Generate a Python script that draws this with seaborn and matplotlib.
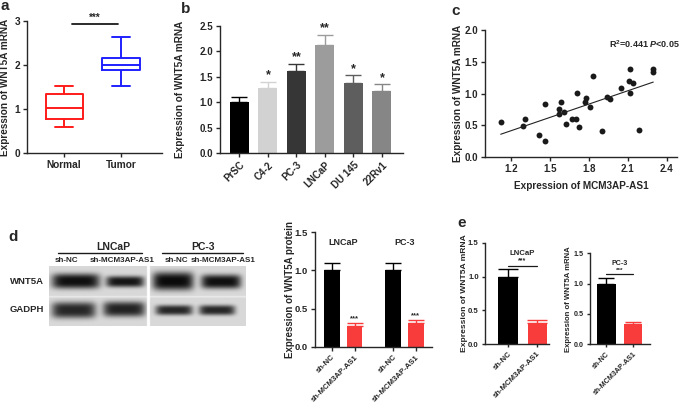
import numpy as np
import pandas as pd
import seaborn as sns
import matplotlib
matplotlib.use("Agg")
from matplotlib import pyplot as plt
from matplotlib.lines import Line2D

# panel a: five-number summaries (min, q1, median, q3, max)
a_groups = ["Normal", "Tumor"]
a_normal = [0.58, 0.78, 1.03, 1.35, 1.53]
a_tumor = [1.52, 1.89, 2.01, 2.17, 2.64]

# panel b
b_cells = ["PrSC", "C4-2", "PC-3", "LNCaP", "DU 145", "22Rv1"]
b_mean = [1.00, 1.27, 1.61, 2.12, 1.38, 1.23]
b_sem = [0.10, 0.13, 0.14, 0.20, 0.15, 0.12]
b_stars = ["", "*", "**", "**", "*", "*"]
b_colors = ["#000000", "#d2d2d2", "#363636", "#9c9c9c", "#5e5e5e", "#868686"]

# panel c
c_x = [1.121, 1.307, 1.290, 1.414, 1.463, 1.463, 1.583, 1.573, 1.611, 1.573,
       1.708, 1.626, 1.669, 1.698, 1.721, 1.782, 1.774, 1.807, 1.830, 1.902,
       1.940, 1.966, 2.050, 2.111, 2.144, 2.119, 2.119, 2.188, 2.293, 2.297]
c_y = [0.551, 0.594, 0.483, 0.346, 0.247, 0.839, 0.866, 0.761, 0.713, 0.672,
       1.013, 0.520, 0.598, 0.598, 0.468, 0.934, 0.861, 0.783, 1.280, 0.409,
       0.950, 0.909, 1.082, 1.197, 1.170, 1.386, 1.003, 0.425, 1.386, 1.334]

# panel d
d_lines = ["LNCaP", "PC-3"]
d_groups = ["sh-NC", "sh-MCM3AP-AS1"]
d_mean = [1.00, 0.275, 1.00, 0.31]
d_sem = [0.10, 0.04, 0.10, 0.04]
# western blot bands: lane centre, row centre, width, height, darkness
blot_bands = [
    (26.8, 15, 48, 15, 0.93), (76, 15.5, 38, 11, 0.9), (124, 15, 41, 18, 0.95), (172, 15.5, 40, 14, 0.93),
    (24.7, 44, 44, 16, 0.82), (75, 43, 42, 15, 0.84), (125, 44, 37, 10, 0.82), (168, 44, 36, 10, 0.82),
]

# panel e
e_lncap_mean = [1.00, 0.32]
e_lncap_sem = [0.11, 0.04]
e_pc3_mean = [0.99, 0.33]
e_pc3_sem = [0.11, 0.03]

BLACK, RED = "#000000", "#f83c3c"

sns.set_theme(style="ticks")
plt.rcParams["font.family"] = ["Liberation Sans", "DejaVu Sans"]
plt.rcParams["font.weight"] = "bold"
plt.rcParams["axes.labelweight"] = "bold"
plt.rcParams["axes.linewidth"] = 1.0
plt.rcParams["xtick.major.width"] = 1.0
plt.rcParams["ytick.major.width"] = 1.0
plt.rcParams["xtick.major.size"] = 3
plt.rcParams["ytick.major.size"] = 3
plt.rcParams["xtick.major.pad"] = 2
plt.rcParams["ytick.major.pad"] = 2
plt.rcParams["mathtext.fontset"] = "custom"
plt.rcParams["mathtext.rm"] = "Liberation Sans:bold"
plt.rcParams["mathtext.it"] = "Liberation Sans:italic:bold"
plt.rcParams["mathtext.bf"] = "Liberation Sans:bold"

W, H = 685, 405
fig = plt.figure(figsize=(W / 100, H / 100), dpi=100)


def px_axes(left, top, right, bottom):
    return fig.add_axes([left / W, 1 - bottom / H, (right - left) / W, (bottom - top) / H])


def ftext(x, y, s, **kw):
    fig.text(x / W, 1 - y / H, s, **kw)


def fline(x0, x1, y, lw=1.0):
    fig.add_artist(Line2D([x0 / W, x1 / W], [1 - y / H, 1 - y / H], color="k", lw=lw,
                          transform=fig.transFigure))


def ylabel_at(ax, text, right_px, left, right, size):
    ax.set_ylabel(text, fontsize=size)
    ax.yaxis.set_label_coords((right_px - left) / (right - left), 0.5)


def up_errorbars(ax, means, sems, colors, capsize, lw=1.0):
    bars = sorted(ax.patches, key=lambda p: p.get_x())
    centers = [p.get_x() + p.get_width() / 2 for p in bars]
    for x, m, s, col in zip(centers, means, sems, colors):
        ax.errorbar([x], [m], yerr=[[0], [s]], fmt="none", ecolor=col, elinewidth=lw,
                    capsize=capsize, capthick=lw)
    return centers


# ---------------- a
ax = px_axes(27, 21, 162, 153)
a_df = pd.DataFrame({"group": np.repeat(a_groups, 5), "value": a_normal + a_tumor})
sns.boxplot(data=a_df, x="group", y="value", hue="group", palette={"Normal": "#ff1a1a", "Tumor": "#2020ff"},
            fill=False, whis=(0, 100), width=0.65, linewidth=1.4, saturation=1, legend=False, ax=ax)
ax.set_xlim(-0.65, 1.72)
ax.set_ylim(0, 3)
ax.set_yticks([0, 1, 2, 3])
ax.set_xlabel("")
ax.tick_params(labelsize=7.3)
ylabel_at(ax, "Expression of WNT5A mRNA", 10, 27, 162, 7.2)
ax.plot([0.135, 0.95], [2.93, 2.93], color="k", lw=1.3)
ax.text(0.54, 2.95, "***", ha="center", va="bottom", fontsize=7)
sns.despine(ax=ax)

# ---------------- b
ax = px_axes(220, 26, 403, 153)
b_df = pd.DataFrame({"cell": b_cells, "value": b_mean})
sns.barplot(data=b_df, x="cell", y="value", hue="cell", palette=b_colors, width=0.67, saturation=1,
            errorbar=None, legend=False, linewidth=0, ax=ax)
centers = up_errorbars(ax, b_mean, b_sem, b_colors, capsize=6)
for x, m, s, st in zip(centers, b_mean, b_sem, b_stars):
    ax.text(x, m + s + 0.01, st, ha="center", va="bottom", fontsize=9)
ax.set_xlim(-0.68, 5.74)
ax.set_ylim(0, 2.5)
ax.set_yticks([0, 0.5, 1.0, 1.5, 2.0, 2.5])
ax.set_yticklabels(["0.0", "0.5", "1.0", "1.5", "2.0", "2.5"])
ax.set_xlabel("")
ax.tick_params(labelsize=7)
plt.setp(ax.get_xticklabels(), rotation=45, ha="right", rotation_mode="anchor")
ylabel_at(ax, "Expression of WNT5A mRNA", 185, 220, 403, 7.2)
sns.despine(ax=ax)

# ---------------- c
ax = px_axes(485, 30, 677, 157)
sns.regplot(x=np.array(c_x), y=np.array(c_y), ci=None, truncate=True,
            scatter_kws=dict(s=18, color="k", linewidths=0, alpha=1),
            line_kws=dict(color="#222222", lw=0.8), ax=ax)
ax.set_xlim(1.0, 2.48)
ax.set_ylim(0, 2.0)
ax.set_xticks([1.2, 1.5, 1.8, 2.1, 2.4])
ax.set_yticks([0, 0.5, 1.0, 1.5, 2.0])
ax.set_yticklabels(["0.0", "0.5", "1.0", "1.5", "2.0"])
ax.tick_params(labelsize=7)
ylabel_at(ax, "Expression of WNT5A mRNA", 463, 485, 677, 7.2)
ax.set_xlabel("Expression of MCM3AP-AS1", fontsize=7.2)
ax.xaxis.set_label_coords(0.5, -(181 - 157) / (157 - 30))
ax.text(2.5, 1.78, r"R$^{\mathrm{2}}$=0.441 $\mathit{P}$<0.05", ha="right", va="center", fontsize=6.5)
sns.despine(ax=ax)

# ---------------- d: blot
ax = px_axes(49, 266, 246, 326)
bw, bh = 197, 60
yy, xx = np.mgrid[0:bh:0.25, 0:bw:0.25]
img = np.full(xx.shape, 0.85)
img[(yy >= 30) & (yy < 31.5)] = 0.92
for cx, cy, w, h, d in blot_bands:
    r = np.abs((xx - cx) / (w / 2)) ** 6 + np.abs((yy - cy) / (h / 2)) ** 3
    img = img * (1 - d * np.exp(-r))
img[(xx >= 98) & (xx < 101)] = 1.0
ax.imshow(img, cmap="gray", vmin=0, vmax=1, extent=(0, bw, bh, 0), interpolation="bilinear", aspect="auto")
ax.axis("off")
ftext(113, 247, "LNCaP", ha="center", va="center", fontsize=7.5)
ftext(203, 247, "PC-3", ha="center", va="center", fontsize=7.5)
fline(58, 142, 253)
fline(162, 243, 253)
ftext(66, 261, "sh-NC", ha="center", va="center", fontsize=5.8)
ftext(122, 261, "sh-MCM3AP-AS1", ha="center", va="center", fontsize=5.8)
ftext(176, 261, "sh-NC", ha="center", va="center", fontsize=5.8)
ftext(191, 261, "sh-MCM3AP-AS1", ha="left", va="center", fontsize=5.8)
ftext(10, 281, "WNT5A", ha="left", va="center", fontsize=6.8)
ftext(10, 309, "GADPH", ha="left", va="center", fontsize=6.8)

# ---------------- d: protein bars
ax = px_axes(315, 232.3, 432, 346.7)
d_df = pd.DataFrame({"line": np.repeat(d_lines, 2), "group": d_groups * 2, "value": d_mean})
sns.barplot(data=d_df, x="line", y="value", hue="group", hue_order=d_groups, palette=[BLACK, RED],
            width=0.744, gap=0.32, saturation=1, errorbar=None, legend=False, linewidth=0, ax=ax)
centers = up_errorbars(ax, d_mean, d_sem, [BLACK, RED, BLACK, RED], capsize=6)
for x, m, s in zip(centers[1::2], d_mean[1::2], d_sem[1::2]):
    ax.text(x, m + s + 0.01, "***", ha="center", va="bottom", fontsize=5.5)
for i, name in enumerate(d_lines):
    ax.text(i, 1.36, name, ha="center", va="center", fontsize=6.5)
ax.set_xlim(-0.46, 1.45)
ax.set_ylim(0, 1.5)
ax.set_yticks([0, 0.5, 1.0, 1.5])
ax.set_yticklabels(["0.0", "0.5", "1.0", "1.5"])
ax.set_xticks(centers)
ax.set_xticklabels(d_groups * 2, rotation=45, ha="right", rotation_mode="anchor", fontsize=5.6)
ax.set_xlabel("")
ax.tick_params(axis="y", labelsize=6.8)
ylabel_at(ax, "Expression of WNT5A protein", 295, 315, 432, 7)
sns.despine(ax=ax)


# ---------------- e
def e_panel(rect, means, sems, title, xlim, width, label_px, fs, cap):
    left, top, right, bottom = rect
    ax = px_axes(*rect)
    df = pd.DataFrame({"group": d_groups, "value": means})
    sns.barplot(data=df, x="group", y="value", hue="group", palette=[BLACK, RED], width=width,
                saturation=1, errorbar=None, legend=False, linewidth=0, ax=ax)
    up_errorbars(ax, means, sems, [BLACK, RED], capsize=cap)
    ax.plot([0, 1], [1.16, 1.16], color="k", lw=0.9)
    ax.text(0.5, 1.18, "***", ha="center", va="bottom", fontsize=fs - 0.5)
    ax.text(0.5, 1.34, title, ha="center", va="center", fontsize=fs)
    ax.set_xlim(*xlim)
    ax.set_ylim(0, 1.5)
    ax.set_yticks([0, 0.5, 1.0, 1.5])
    ax.set_yticklabels(["0.0", "0.5", "1.0", "1.5"])
    ax.set_xlabel("")
    ax.tick_params(labelsize=fs, length=2.5)
    plt.setp(ax.get_xticklabels(), rotation=45, ha="right", rotation_mode="anchor")
    ylabel_at(ax, "Expression of WNT5A mRNA", label_px, left, right, fs + 0.5)
    sns.despine(ax=ax)


e_panel((485, 242.7, 549, 344.3), e_lncap_mean, e_lncap_sem, "LNCaP", (-0.79, 1.41), 0.655, 468, 5.6, 7)
e_panel((590, 253.3, 650, 344.3), e_pc3_mean, e_pc3_sem, "PC-3", (-0.62, 1.64), 0.69, 572, 5.1, 6)

# panel letters
for letter, x, y in [("a", 5, 6), ("b", 186, 9), ("c", 456, 11), ("d", 13, 237), ("e", 462, 223)]:
    ftext(x, y, letter, ha="center", va="center", fontsize=11, fontweight="bold")

fig.savefig("out.png", dpi=100)
